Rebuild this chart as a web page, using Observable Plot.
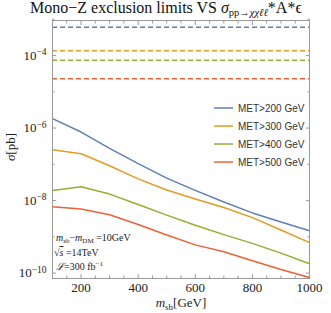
<!DOCTYPE html>
<html><head><meta charset="utf-8">
<script src="https://cdn.jsdelivr.net/npm/d3@7"></script>
<script src="https://cdn.jsdelivr.net/npm/@observablehq/plot@0.6"></script>
<style>
body{margin:0;background:#fff;}
#title{position:relative;height:18px;font-family:"Liberation Serif",serif;font-size:16px;line-height:16px;white-space:nowrap;color:#111;}
#title span.t{position:absolute;left:30px;top:0;}
#title sub{font-size:10.5px;vertical-align:-3px;line-height:0;}
#chart svg{display:block;overflow:visible;}
</style></head><body>
<div id="title"><span class="t">Mono−Z exclusion limits VS <i>σ</i><sub>pp→<i>χχℓℓ</i></sub>*A*ϵ</span></div>
<div id="chart"></div>
<script>
const mass = [100, 200, 300, 400, 500, 600, 700, 800, 900, 1000];
const met200 = [1.82e-6, 7.76e-7, 2.75e-7, 1.05e-7, 4.17e-8, 1.91e-8, 9.1e-9, 4.57e-9, 2.57e-9, 1.48e-9];
const met300 = [2.51e-7, 1.95e-7, 9.1e-8, 3.98e-8, 1.95e-8, 1.10e-8, 6.46e-9, 3.39e-9, 1.55e-9, 6.9e-10];
const met400 = [1.91e-8, 2.40e-8, 1.51e-8, 7.76e-9, 3.98e-9, 2.09e-9, 1.15e-9, 6.6e-10, 3.55e-10, 1.82e-10];
const met500 = [6.76e-9, 5.89e-9, 4.07e-9, 2.19e-9, 1.12e-9, 6.0e-10, 3.89e-10, 2.19e-10, 1.26e-10, 7.6e-11];
const seriesNames = ["MET>200 GeV", "MET>300 GeV", "MET>400 GeV", "MET>500 GeV"];
const exclusionLimits = [6.0e-4, 1.35e-4, 7.4e-5, 2.3e-5];
const colors = ["#5e81b5", "#e19c24", "#8fb032", "#eb6235"];
const xTicks = [200, 400, 600, 800, 1000];
const yTicks = [1e-10, 1e-8, 1e-6, 1e-4];

const seriesValues = [met200, met300, met400, met500];
const rows = [];
seriesNames.forEach((s, i) => mass.forEach((m, j) => rows.push({series: s, m, v: seriesValues[i][j]})));
const limitRows = exclusionLimits.map((v, i) => ({series: seriesNames[i], v}));

const frameColor = "#9a9a9a";
const xMinor = d3.range(100, 1001, 50).filter(d => !xTicks.includes(d));
const yAllDec = d3.range(-10, -2).map(e => Math.pow(10, e));
const yMinor = yAllDec.filter(d => !yTicks.some(t => Math.abs(Math.log10(t) - Math.log10(d)) < 1e-6));

const plot = Plot.plot({
  width: 331, height: 295,
  marginTop: 2, marginLeft: 52, marginRight: 22, marginBottom: 35,
  style: {fontFamily: "'Liberation Serif', serif", fontSize: "13px", background: "#fff"},
  x: {type: "linear", domain: [100, 1000], label: null},
  y: {type: "log", domain: [7.1e-11, 9.25e-4], label: null},
  color: {domain: seriesNames, range: colors},
  marks: [
    Plot.ruleY(limitRows, {y: "v", stroke: "series", strokeWidth: 1.5, strokeDasharray: "5,3"}),
    Plot.line(rows, {x: "m", y: "v", stroke: "series", strokeWidth: 1.5}),
    Plot.frame({stroke: frameColor}),
    Plot.axisX(xTicks, {anchor: "bottom", tickSize: 0, tickPadding: 4, fill: "#222", label: null, tickFormat: d => String(d)}),
    Plot.axisX(xTicks, {anchor: "bottom", tickSize: -4, stroke: frameColor, tickFormat: () => "", label: null}),
    Plot.axisX(xMinor, {anchor: "bottom", tickSize: -2.5, stroke: frameColor, tickFormat: () => "", label: null}),
    Plot.axisX(xTicks, {anchor: "top", tickSize: -4, stroke: frameColor, tickFormat: () => "", label: null}),
    Plot.axisX(xMinor, {anchor: "top", tickSize: -2.5, stroke: frameColor, tickFormat: () => "", label: null}),
    Plot.axisY(yTicks, {anchor: "left", tickSize: 0, tickPadding: 6, fill: "#222", label: null, tickFormat: d => "10^" + Math.round(Math.log10(d))}),
    Plot.axisY(yTicks, {anchor: "left", tickSize: -4, stroke: frameColor, tickFormat: () => "", label: null}),
    Plot.axisY(yMinor, {anchor: "left", tickSize: -2.5, stroke: frameColor, tickFormat: () => "", label: null}),
    Plot.axisY(yTicks, {anchor: "right", tickSize: -4, stroke: frameColor, tickFormat: () => "", label: null}),
    Plot.axisY(yMinor, {anchor: "right", tickSize: -2.5, stroke: frameColor, tickFormat: () => "", label: null})
  ]
});
document.getElementById("chart").appendChild(plot);

const ns = "http://www.w3.org/2000/svg";
const svg = d3.select(plot);
// superscript exponents on y tick labels
plot.querySelectorAll("text").forEach(t => {
  const m = t.textContent.match(/^10\^(-?\d+)$/);
  if (m) {
    t.textContent = "10";
    const ts = document.createElementNS(ns, "tspan");
    ts.setAttribute("dy", "-0.45em");
    ts.setAttribute("font-size", "9.5");
    ts.textContent = "−" + Math.abs(+m[1]);
    t.appendChild(ts);
  }
});

// axis titles
const yl = svg.append("text").attr("transform", "translate(15,129) rotate(-90)")
  .attr("text-anchor", "middle").attr("font-family", "'Liberation Serif', serif").attr("font-size", 13).attr("fill", "#222");
yl.append("tspan").attr("font-style", "italic").text("σ");
yl.append("tspan").text("[pb]");

const xl = svg.append("text").attr("x", 181).attr("y", 289)
  .attr("text-anchor", "middle").attr("font-family", "'Liberation Serif', serif").attr("font-size", 13).attr("fill", "#222");
xl.append("tspan").attr("font-style", "italic").text("m");
xl.append("tspan").attr("font-size", 9).attr("dy", 3).text("sb");
xl.append("tspan").attr("dy", -3).text("[GeV]");

// annotations
const ann = svg.append("g").attr("font-family", "'Liberation Serif', serif").attr("font-size", 10).attr("fill", "#222").attr("text-anchor", "start");
const a1 = ann.append("text").attr("x", 56).attr("y", 223);
a1.append("tspan").attr("font-style", "italic").text("m");
a1.append("tspan").attr("font-size", 7).attr("dy", 2).text("sb");
a1.append("tspan").attr("dy", -2).text("−");
a1.append("tspan").attr("font-style", "italic").text("m");
a1.append("tspan").attr("font-size", 7).attr("dy", 2).text("DM");
a1.append("tspan").attr("dy", -2).text(" =10GeV");
const a2 = ann.append("text").attr("x", 54).attr("y", 238);
a2.append("tspan").text("√");
a2.append("tspan").attr("font-style", "italic").attr("text-decoration", "overline").text("s");
a2.append("tspan").text(" =14TeV");
const a3 = ann.append("text").attr("x", 56).attr("y", 252);
a3.append("tspan").attr("font-style", "italic").text("ℒ");
a3.append("tspan").text("=300 fb");
a3.append("tspan").attr("font-size", 7).attr("dy", -4).text("−1");

// legend
const lg = svg.append("g").attr("font-family", "'Liberation Sans', Arial, sans-serif").attr("font-size", 10).attr("fill", "#333").attr("text-anchor", "start");
seriesNames.forEach((s, i) => {
  const yy = 90 + 18 * i;
  lg.append("line").attr("x1", 214).attr("x2", 233).attr("y1", yy).attr("y2", yy)
    .attr("stroke", colors[i]).attr("stroke-width", 1.5);
  lg.append("text").attr("x", 238).attr("y", yy).attr("dy", "0.35em").text(s);
});
</script>
</body></html>
